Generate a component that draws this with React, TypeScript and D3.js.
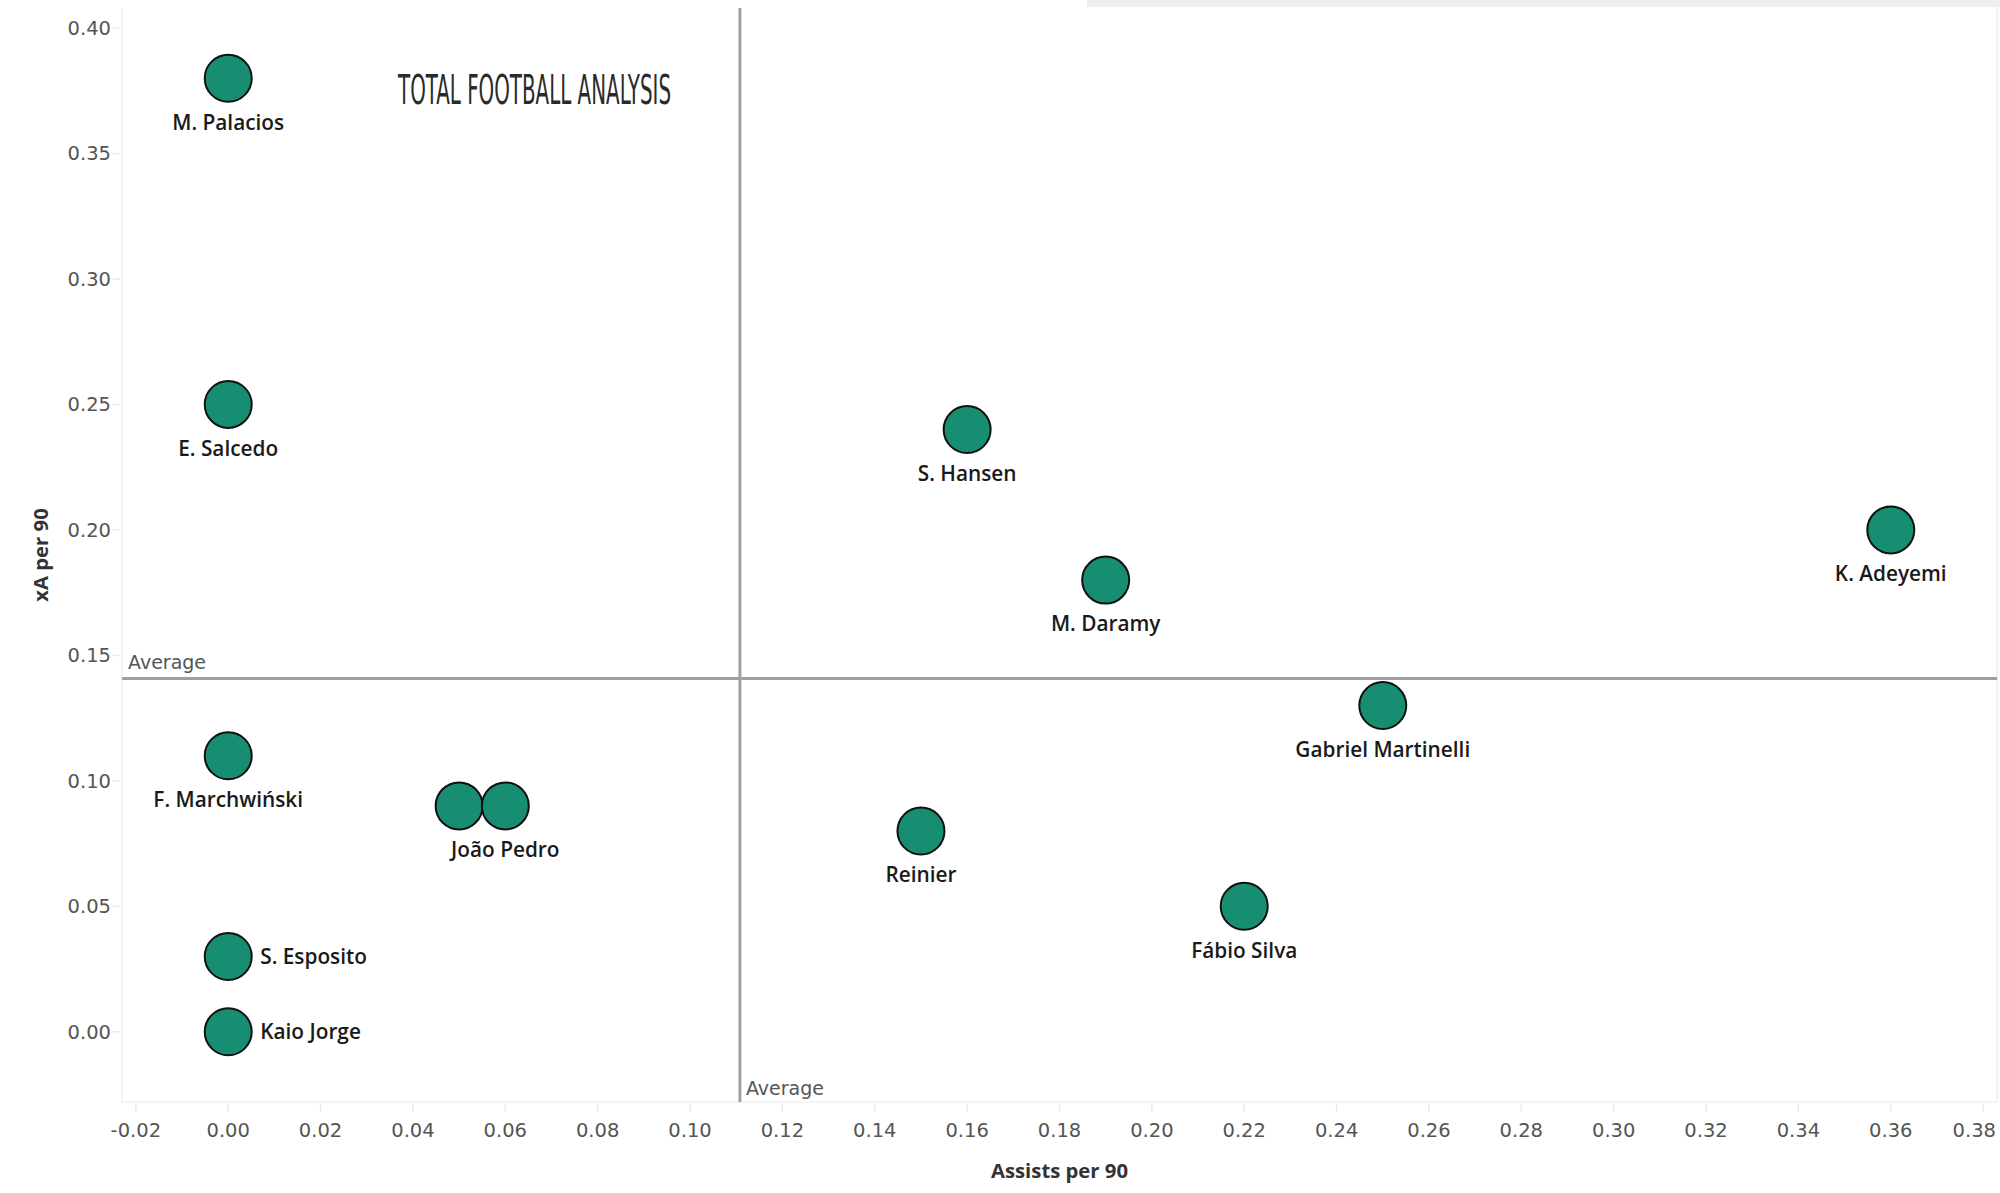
import React, { useEffect } from "react";
import * as d3 from "d3";

const players = ["M. Palacios", "E. Salcedo", "S. Hansen", "K. Adeyemi", "M. Daramy", "Gabriel Martinelli", "F. Marchwiński", "", "João Pedro", "Reinier", "Fábio Silva", "S. Esposito", "Kaio Jorge"];
const assistsPer90 = [0.0, 0.0, 0.16, 0.36, 0.19, 0.25, 0.0, 0.05, 0.06, 0.15, 0.22, 0.0, 0.0];
const xAPer90 = [0.38, 0.25, 0.24, 0.2, 0.18, 0.13, 0.11, 0.09, 0.09, 0.08, 0.05, 0.03, 0.0];
const rightLabelled = ["S. Esposito", "Kaio Jorge"];
const xTicks = [-0.02, 0.0, 0.02, 0.04, 0.06, 0.08, 0.1, 0.12, 0.14, 0.16, 0.18, 0.2, 0.22, 0.24, 0.26, 0.28, 0.3, 0.32, 0.34, 0.36, 0.38];
const yTicks = [0.0, 0.05, 0.1, 0.15, 0.2, 0.25, 0.3, 0.35, 0.4];
const avgAssists = 0.1108;
const avgXA = 0.1408;

const W = 2000;
const H = 1193;
const L = 122, R = 1997, T = 8, B = 1102;

export default function App() {
  useEffect(() => {
    document.body.style.margin = "0";
  }, []);
  const x = d3.scaleLinear().domain([-0.023, 0.383]).range([L, R]);
  const y = d3.scaleLinear().domain([-0.028, 0.408]).range([B, T]);
  const f2 = d3.format(".2f");
  const fmt = (v: number) => f2(v).replace("\u2212", "-");
  const tickFont = "'DejaVu Sans', sans-serif";
  const labelFont = "'Open Sans', sans-serif";
  const rad = 23.5;
  const labelSize = 20.8;
  const data = players.map((p, i) => ({ name: p, ax: assistsPer90[i], xa: xAPer90[i] }));
  return (
    <svg width={W} height={H} style={{ position: "absolute", left: 0, top: 0, background: "#fff" }}>
      <rect x={0} y={0} width={W} height={H} fill="#fff" />
      <rect x={1087} y={0} width={W - 1087} height={7} fill="#eeeeee" />
      <line x1={R} x2={R} y1={7} y2={B} stroke="#ececec" strokeWidth={1.5} />
      {/* plot borders */}
      <line x1={L} x2={L} y1={T} y2={B} stroke="#f0f0f0" strokeWidth={1.5} />
      <line x1={L} x2={R} y1={B} y2={B} stroke="#f0f0f0" strokeWidth={1.5} />
      {/* y ticks */}
      {yTicks.map((t) => (
        <g key={"y" + t}>
          <line x1={L - 9} x2={L - 2} y1={y(t)} y2={y(t)} stroke="#eaeaea" strokeWidth={1.5} />
          <text x={111} y={y(t)} dy="0.35em" textAnchor="end" fontFamily={tickFont} fontSize={19.5} fill="#555">
            {fmt(t)}
          </text>
        </g>
      ))}
      {/* x ticks */}
      {xTicks.map((t) => {
        const px = x(t);
        const overflow = px + 24 > W;
        return (
          <g key={"x" + t}>
            <line x1={px} x2={px} y1={B + 2} y2={B + 10} stroke="#eaeaea" strokeWidth={1.5} />
            <text x={overflow ? W - 4 : px} y={1130} dy="0.35em" textAnchor={overflow ? "end" : "middle"} fontFamily={tickFont} fontSize={19.5} fill="#555">
              {fmt(t)}
            </text>
          </g>
        );
      })}
      {/* axis titles */}
      <text x={(L + R) / 2} y={1171} dy="0.35em" textAnchor="middle" fontFamily={labelFont} fontWeight={700} fontSize={20.3} fill="#333">
        Assists per 90
      </text>
      <text transform={`translate(41,${(T + B) / 2}) rotate(-90)`} dy="0.35em" textAnchor="middle" fontFamily={labelFont} fontWeight={700} fontSize={20.3} fill="#333">
        xA per 90
      </text>
      {/* reference lines */}
      <line x1={L} x2={R} y1={y(avgXA)} y2={y(avgXA)} stroke="#a0a0a0" strokeWidth={3} />
      <line x1={x(avgAssists)} x2={x(avgAssists)} y1={T} y2={B} stroke="#a0a0a0" strokeWidth={3} />
      <text x={L + 6} y={y(avgXA) - 9} fontFamily={tickFont} fontSize={19} fill="#555">
        Average
      </text>
      <text x={x(avgAssists) + 6} y={B - 7} fontFamily={tickFont} fontSize={19} fill="#555">
        Average
      </text>
      {/* logo */}
      <text x={398} y={104} textLength={273} lengthAdjust="spacingAndGlyphs" fontFamily="'DejaVu Sans Condensed', 'DejaVu Sans', sans-serif" fontSize={40} fill="#2a2a2a" fontWeight={400}>
        TOTAL FOOTBALL ANALYSIS
      </text>
      {/* points */}
      {data.map((d, i) => (
        <circle key={"c" + i} cx={x(d.ax)} cy={y(d.xa)} r={rad} fill="#178e71" stroke="#111" strokeWidth={2} />
      ))}
      {data.map((d, i) =>
        d.name === "" ? null : rightLabelled.includes(d.name) ? (
          <text key={"t" + i} x={x(d.ax) + 32} y={y(d.xa)} dy="0.35em" fontFamily={labelFont} fontWeight={600} fontSize={labelSize} fill="#1a1a1a">
            {d.name}
          </text>
        ) : (
          <text key={"t" + i} x={x(d.ax)} y={y(d.xa) + 44} dy="0.35em" textAnchor="middle" fontFamily={labelFont} fontWeight={600} fontSize={labelSize} fill="#1a1a1a">
            {d.name}
          </text>
        )
      )}
    </svg>
  );
}
